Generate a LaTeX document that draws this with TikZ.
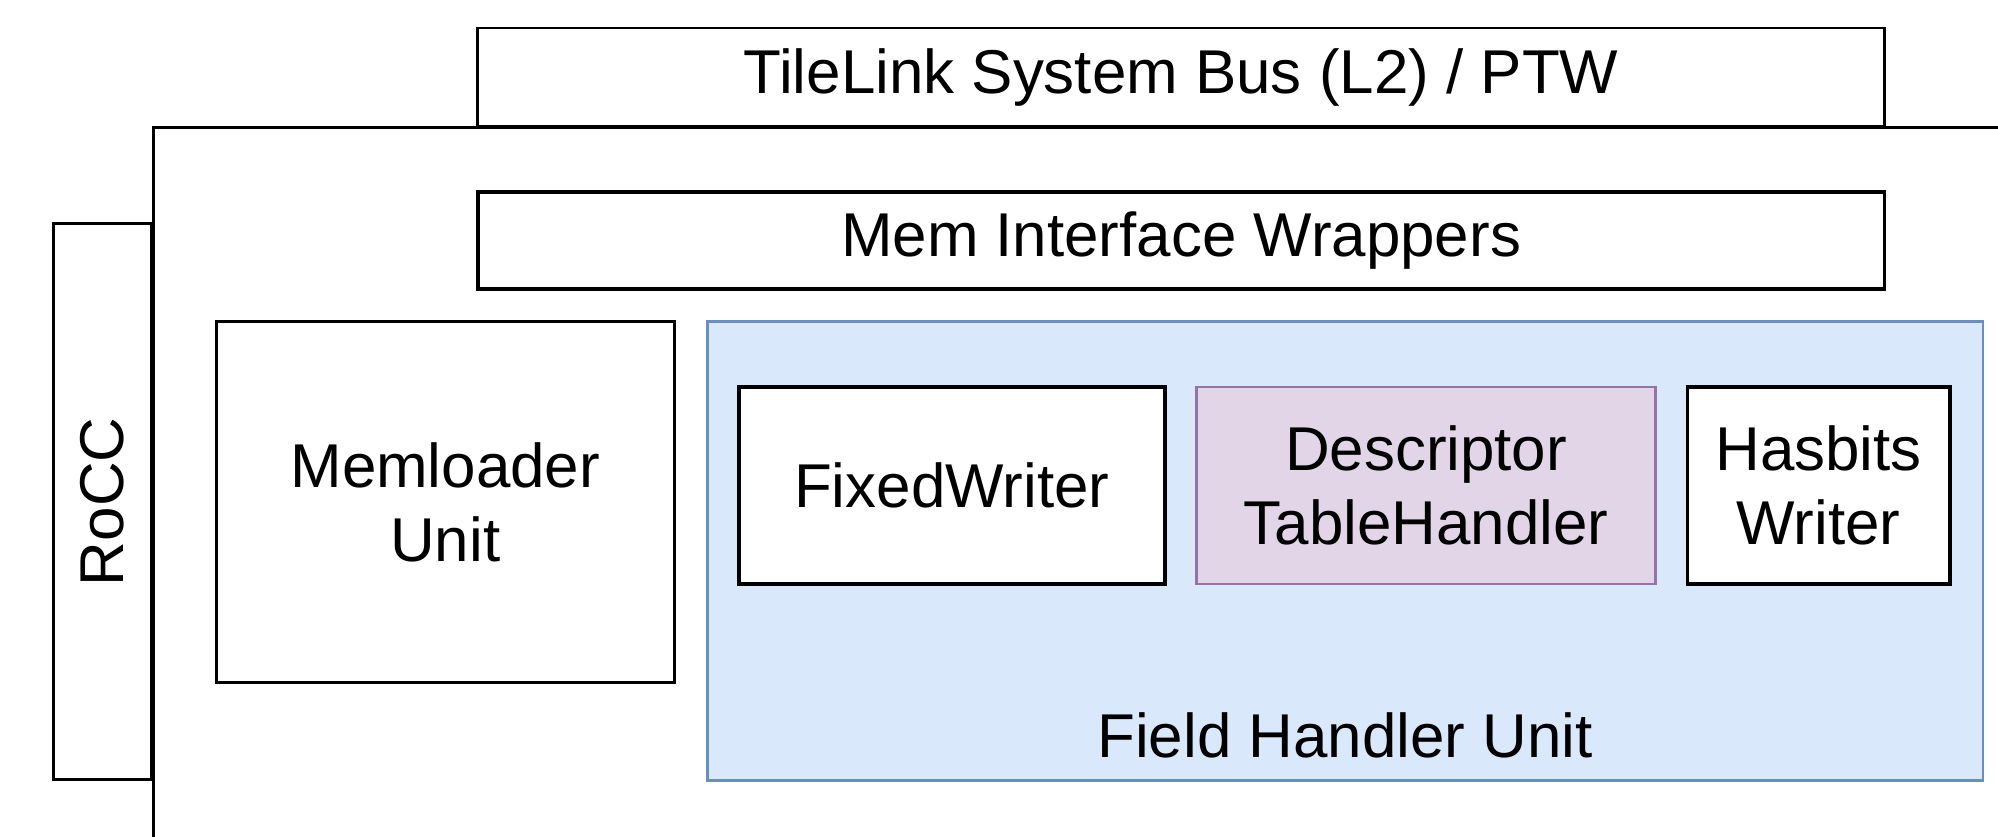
\documentclass[tikz,border=0pt]{standalone}
\usepackage{fontspec}
\setmainfont{Liberation Sans}
\usepackage{tikz}
\definecolor{fhfill}{HTML}{DAE8FC}
\definecolor{fhdraw}{HTML}{6C8EBF}
\definecolor{dtfill}{HTML}{E1D5E7}
\definecolor{dtdraw}{HTML}{9673A6}
\tikzset{block/.style = {shape=rectangle,draw,line width=0.8pt,fill=white,align=center,inner sep=0pt,font=\fontsize{17.6}{21}\selectfont}}
\tikzset{thickblock/.style = {block,line width=1.1pt}}

\begin{document}
\begin{tikzpicture}[x=0.01cm,y=-0.01cm]
                \clip (0,0) rectangle (1998,837);
                \node[block,minimum width=14.06cm,minimum height=0.985cm] (bus) at (1181,77.25) {TileLink System Bus (L2) / PTW};
                \node[block,anchor=north west,minimum width=19.5cm,minimum height=8cm] (accel) at (152,126.5) {};
                \node[block,minimum width=0.98cm,minimum height=5.555cm] (rocc) at (102.5,501.75) {};
                \node[block,draw=none,fill=none,rotate=90] (rocclabel) at (rocc.center) {RoCC};
                \node[thickblock,minimum width=14.06cm,minimum height=0.97cm] (memif) at (1181,240.5) {Mem Interface Wrappers};
                \node[block,minimum width=4.575cm,minimum height=3.6cm] (memloader) at (445.25,502) {Memloader\\Unit};
                \node[block,fill=fhfill,draw=fhdraw,minimum width=12.75cm,minimum height=4.58cm] (fhu) at (1345,551) {};
                \node[block,draw=none,fill=none] (fhulabel) at (1345,735) {Field Handler Unit};
                \node[thickblock,minimum width=4.255cm,minimum height=1.97cm] (fixed) at (951.75,485.5) {FixedWriter};
                \node[block,fill=dtfill,draw=dtdraw,minimum width=4.58cm,minimum height=1.97cm] (desc) at (1426,485.5) {Descriptor\\TableHandler};
                \node[thickblock,minimum width=2.62cm,minimum height=1.97cm] (hasbits) at (1818.5,485.5) {Hasbits\\Writer};
            \end{tikzpicture}
\end{document}
